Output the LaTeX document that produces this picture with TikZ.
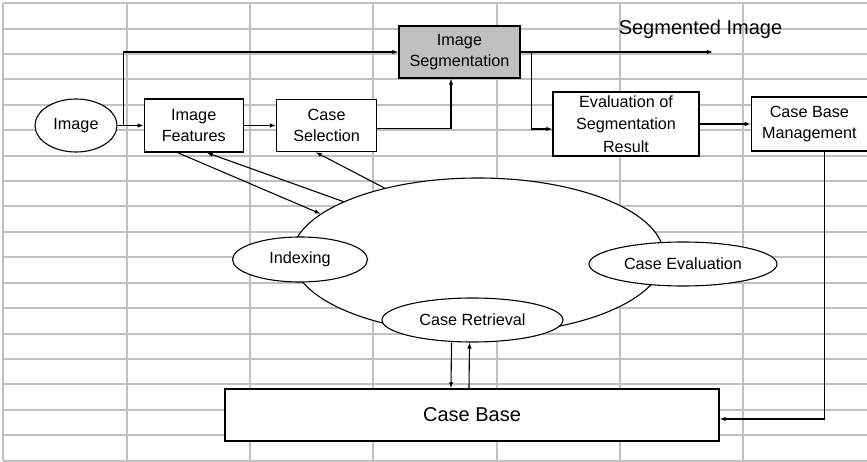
\documentclass[tikz,border=0pt]{standalone}
\usepackage{fontspec}
\setmainfont{Liberation Sans}
\usetikzlibrary{arrows.meta,positioning,shapes.geometric}
\definecolor{cellline}{HTML}{C0C0C0}
\definecolor{boxgray}{HTML}{C0C0C0}

\begin{document}
\begin{tikzpicture}[
x=1pt, y=-1pt,
node distance=26pt,
box/.style={draw, fill=white, line width=1.4pt, align=center, inner sep=0pt, font=\fontsize{16.2pt}{21.5pt}\selectfont},
oval/.style={draw, ellipse, fill=white, line width=1.1pt, inner sep=0pt, font=\fontsize{16.2pt}{21.5pt}\selectfont},
arrow/.style={-{Latex[length=6pt,width=4.5pt]}, line width=1.1pt},
cell/.style={cellline, line width=2pt}
]
\useasboundingbox (0,0) rectangle (867,462);
% worksheet cells behind the chart
\foreach \r in {0,...,18}
  \draw[cell] (3.3,3.3+25.4*\r) -- (867,3.3+25.4*\r);
\foreach \c in {0,...,6}
  \draw[cell] (3.3+123.3*\c,3.3) -- (3.3+123.3*\c,460.5);

% top row
\node[oval, minimum width=82pt, minimum height=53pt] (img) at (76,125.5) {Image};
\node[box, right=26pt of img, minimum width=99pt, minimum height=53pt] (feat) {Image\\Features};
\node[box, right=32pt of feat, minimum width=100pt, minimum height=52pt] (sel) {Case\\Selection};
\node[box, fill=boxgray, minimum width=121pt, minimum height=52pt] (seg) at (459.5,52) {Image\\Segmentation};
\node[anchor=base, font=\fontsize{20pt}{24pt}\selectfont] (segimg) at (700.5,35) {Segmented Image};
\node[box, minimum width=146pt, minimum height=64pt, font=\fontsize{16.2pt}{22.5pt}\selectfont] (evalres) at (626,124) {Evaluation of\\Segmentation\\Result};
\node[box, right=51pt of evalres, minimum width=116pt, minimum height=54pt] (cbm) {Case Base\\Management};

% CBR cycle
\node[oval, minimum width=372pt, minimum height=156pt] (cycle) at (478,256) {};
\node[oval, minimum width=135pt, minimum height=45pt] (idx) at (300,259.5) {Indexing};
\node[oval, minimum width=188pt, minimum height=44pt] (ceval) at (683,264) {Case Evaluation};
\node[oval, minimum width=181pt, minimum height=44pt] (retr) at (472.5,320) {Case Retrieval};
\node[box, minimum width=494pt, minimum height=52pt, font=\fontsize{20pt}{24pt}\selectfont] (cb) at (472,415) {Case Base};

\coordinate (segout) at (713,52);

\draw[arrow] (img) -- (feat);
\draw[arrow] (img.east) -- ++(6,0) |- (seg.west);
\draw[arrow] (feat) -- (sel);
\draw[arrow] ([yshift=-3pt]sel.east) -| ([xshift=-8.5pt]seg.south);
\draw[arrow] (seg.east) -- (segout);
\draw[arrow] ([xshift=11pt]seg.east) |- ([yshift=-5pt]evalres.west);
\draw[arrow] (evalres) -- (cbm);
\draw[arrow] ([xshift=15pt]cbm.south) |- ([yshift=-4pt]cb.east);
\draw[arrow] ([xshift=-16pt]feat.south) -- (cycle.165);
\draw[arrow] (cycle.158) -- ([xshift=13pt]feat.south);
\draw[arrow] (cycle.144) -- ([xshift=-11pt]sel.south);
\draw[arrow] ([xshift=-21pt]retr.south) -- ([xshift=-21pt]cb.north);
\draw[arrow] ([xshift=-3pt]cb.north) -- ([xshift=-3pt]retr.south);
\end{tikzpicture}
\end{document}
